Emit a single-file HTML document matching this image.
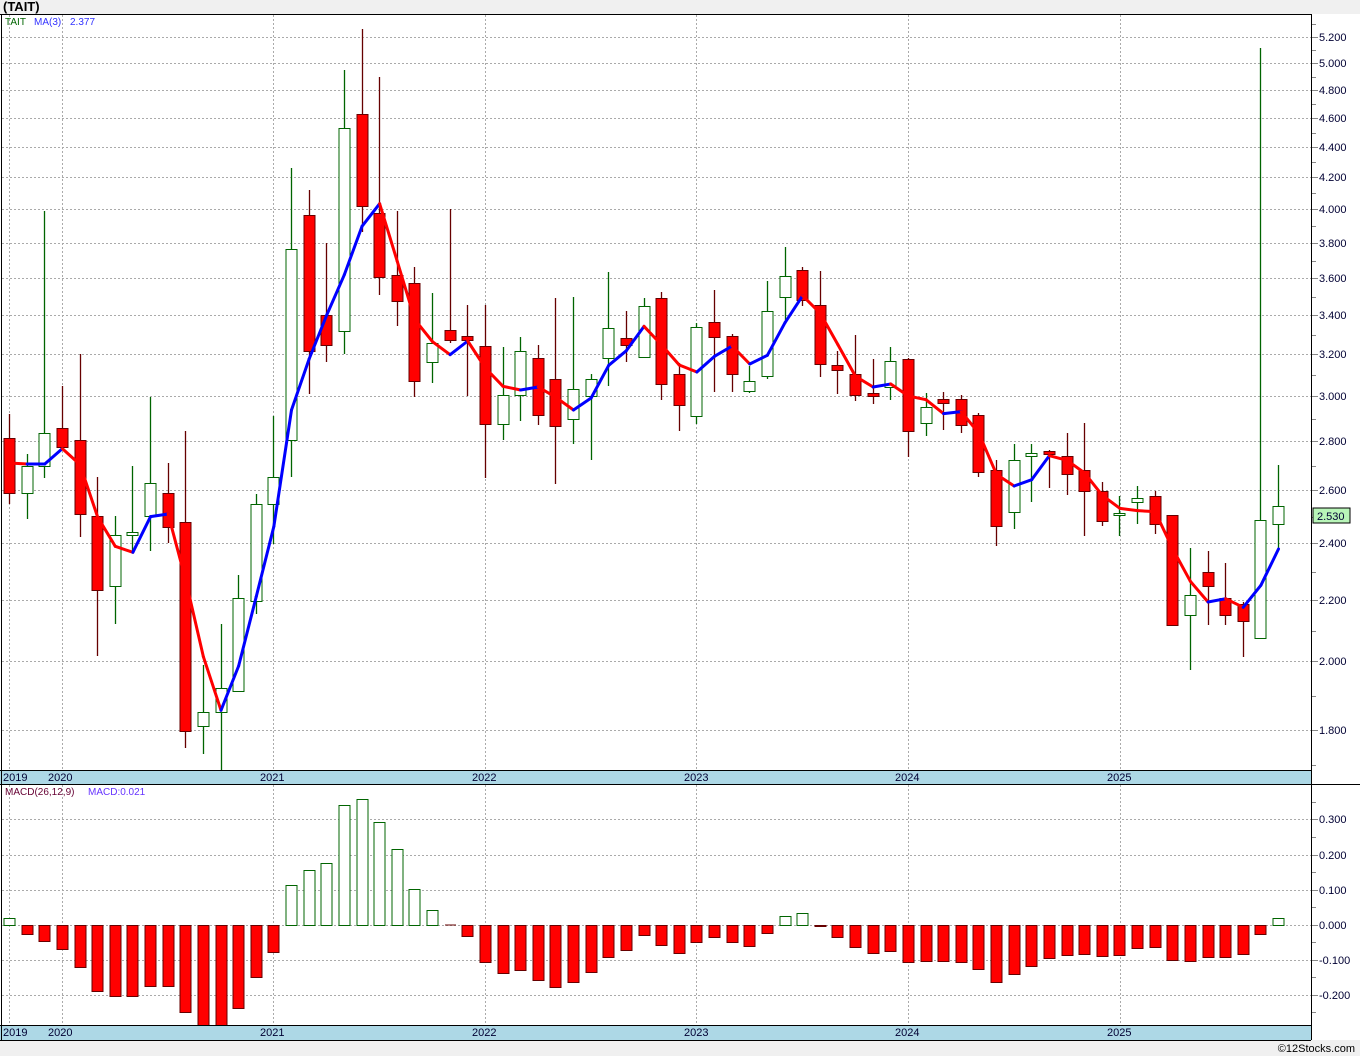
<!DOCTYPE html>
<html><head><meta charset="utf-8"><style>
html,body{margin:0;padding:0;background:#f0f0f0;}
body{width:1360px;height:1056px;overflow:hidden;position:relative;font-family:"Liberation Sans","DejaVu Sans",sans-serif;}
svg{position:absolute;left:0;top:0;}
</style></head><body>
<svg id="s" width="1360" height="1056" viewBox="0 0 1360 1056" xmlns="http://www.w3.org/2000/svg" font-family="Liberation Sans, DejaVu Sans, sans-serif">
<rect x="0" y="14" width="1360" height="1026" fill="#ffffff"/>
<text x="3" y="11" font-size="13" font-weight="bold" fill="#000">(TAIT)</text>
<g id="grid" stroke="#aaaaaa" stroke-width="1" stroke-dasharray="2,2"></g>
<g id="macd"></g>
<g id="cand"></g>
<g id="ma" fill="none" stroke-width="3" stroke-linejoin="round" stroke-linecap="round"></g>
<!-- bands -->
<rect x="0" y="770" width="1311" height="14" fill="#add8e6"/>
<rect x="0" y="1025" width="1311" height="15" fill="#add8e6"/>
<line x1="0" y1="770.5" x2="1311" y2="770.5" stroke="#000"/>
<line x1="0" y1="784.5" x2="1360" y2="784.5" stroke="#000"/>
<line x1="0" y1="1025.5" x2="1311" y2="1025.5" stroke="#000"/>
<line x1="0" y1="1040.5" x2="1311" y2="1040.5" stroke="#000"/>
<line x1="0" y1="14.5" x2="1311" y2="14.5" stroke="#000"/>
<line x1="1.5" y1="14" x2="1.5" y2="1040" stroke="#000"/>
<line x1="1311.5" y1="14" x2="1311.5" y2="1040" stroke="#000"/>
<g font-size="11" fill="#000033">
<text x="3" y="781">2019</text><text x="48" y="781">2020</text><text x="260" y="781">2021</text><text x="472" y="781">2022</text><text x="684" y="781">2023</text><text x="895" y="781">2024</text><text x="1107" y="781">2025</text>
<text x="3" y="1036">2019</text><text x="48" y="1036">2020</text><text x="260" y="1036">2021</text><text x="472" y="1036">2022</text><text x="684" y="1036">2023</text><text x="895" y="1036">2024</text><text x="1107" y="1036">2025</text>
</g>
<g font-size="10">
<text x="5" y="25" fill="#006400">TAIT</text><text x="34" y="25" fill="#3333ff">MA(3)</text><text x="70" y="25" fill="#3333ff">2.377</text>
<text x="5" y="795" fill="#660033">MACD(26,12,9)</text><text x="88" y="795" fill="#6633ff">MACD:0.021</text>
</g>
<g id="ax" font-size="11" fill="#000033"></g>
<rect x="1313" y="508" width="37" height="15" fill="#b8f5b8" stroke="#000"/>
<text x="1317" y="520" font-size="11" fill="#000033">2.530</text>
<text x="1355" y="1052" font-size="11" fill="#000" text-anchor="end">©12Stocks.com</text>
</svg>
<script>
var NS="http://www.w3.org/2000/svg";
function el(p,t,a){var e=document.createElementNS(NS,t);for(var k in a)e.setAttribute(k,a[k]);p.appendChild(e);return e;}
var g=document.getElementById('grid'),ax=document.getElementById('ax');
var xs=[9,62,273,485,696,908,1120];
xs.forEach(function(x){el(g,'line',{x1:x+.5,y1:15,x2:x+.5,y2:770});el(g,'line',{x1:x+.5,y1:785,x2:x+.5,y2:1025});});
var pl=[[37,"5.200"],[63,"5.000"],[90,"4.800"],[118,"4.600"],[147,"4.400"],[177,"4.200"],[209,"4.000"],[243,"3.800"],[278,"3.600"],[315,"3.400"],[354,"3.200"],[396,"3.000"],[441,"2.800"],[490,"2.600"],[543,"2.400"],[600,"2.200"],[661,"2.000"],[730,"1.800"]];
function axis(list,minor){list.forEach(function(p){el(g,'line',{x1:2,y1:p[0]+.5,x2:1311,y2:p[0]+.5});
el(ax,'line',{x1:1312,y1:p[0]+.5,x2:1318,y2:p[0]+.5,stroke:"#888"});
var t=el(ax,'text',{x:1319,y:p[0]+4});t.textContent=p[1];});
minor.forEach(function(y){el(ax,'line',{x1:1312,y1:y+.5,x2:1316,y2:y+.5,stroke:"#888"});});}
var pm=[];for(var i=0;i<pl.length-1;i++)pm.push(Math.round((pl[i][0]+pl[i+1][0])/2));pm.push(24);pm.push(765);
axis(pl,pm);
var ml=[[819,"0.300"],[855,"0.200"],[890,"0.100"],[925,"0.000"],[960,"-0.100"],[995,"-0.200"]];
axis(ml,[802,837,872,907,942,977,1012]);
// candles: [dir(1 up,0 down), wickTop, bodyTop, bodyBot, wickBot]
var C=[[0,414,438,493,504],[1,454,466,493,519],[1,211,433,466,478],[0,386,428,447,447],[0,354,440,514,537],[0,477,516,590,656],[1,516,535,586,624],[1,466,532,535,552],[1,397,483,516,551],[0,463,493,527,543],[0,431,522,731,748],[1,665,712,726,754],[1,624,688,712,770],[1,575,598,691,692],[1,494,504,601,614],[1,416,477,504,544],[1,168,249,440,477],[0,190,215,351,394],[0,243,315,345,362],
[1,70,128,331,354],[0,29,114,206,232],[0,77,213,277,295],[0,211,275,301,326],[0,267,283,381,397],[1,293,343,362,383],[0,209,330,340,343],[0,305,336,340,396],[0,305,346,424,478],[1,347,395,424,440],[1,337,351,395,421],[0,345,358,415,425],[0,298,379,426,484],[1,297,389,419,444],[1,374,379,396,460],[1,272,328,358,386],[0,311,338,345,362],[1,298,306,357,357],[0,292,298,384,400],
[0,363,374,405,431],[1,323,327,416,424],[0,290,322,337,392],[0,334,336,374,392],[1,366,381,391,393],[1,281,311,376,379],[1,247,276,297,320],[0,267,270,300,306],[0,271,305,364,377],[0,351,365,370,394],[0,335,374,395,401],[0,359,393,396,404],[1,347,361,387,400],[0,358,359,431,457],[1,393,407,423,436],[0,392,399,403,430],[0,395,399,425,433],[0,413,415,472,477],[0,460,470,526,546],
[1,444,460,512,529],[1,444,453,456,502],[0,450,451,454,488],[0,433,456,474,495],[0,423,470,491,536],[0,482,491,521,526],[1,496,513,515,536],[1,486,498,502,524],[0,491,496,524,534],[0,515,515,625,625],[1,548,595,615,670],[0,551,572,586,625],[0,563,598,615,625],[0,602,604,621,657],[1,48,520,638,638],[1,465,506,524,549]];
var cg=document.getElementById('cand');
function X(i){return 9+i*17.625;}
var closes=[];
C.forEach(function(c,i){var x=Math.round(X(i));var up=c[0]==1;var col=up?"#006400":"#660000";
el(cg,'line',{x1:x+.5,y1:c[1],x2:x+.5,y2:c[4],stroke:col,"stroke-width":1.3});
var h=Math.max(c[3]-c[2],2);
el(cg,'rect',{x:x-5,y:c[2]+.5,width:11,height:h,fill:up?"#ffffff":"#ff0000",stroke:col,"stroke-width":1});
closes.push(up?c[2]:c[3]);});
var ma=[];for(var i=0;i<closes.length;i++){if(i==0)ma.push(463);else if(i==1)ma.push(464);else ma.push((closes[i]+closes[i-1]+closes[i-2])/3);}
var mg=document.getElementById('ma');
for(var i=0;i<ma.length-1;i++){el(mg,'line',{x1:X(i)+.5,y1:ma[i],x2:X(i+1)+.5,y2:ma[i+1],stroke:ma[i+1]>ma[i]?"#ff0000":"#0000ff"});}
// macd bars (end y, zero at 925)
var M=[918,934,941,949,967,991,996,996,986,986,1012,1025,1025,1008,977,952,885,870,863,805,799,822,849,889,910,924,936,962,973,970,980,987,982,972,957,950,935,945,953,942,937,942,946,933,916,913,926,937,947,953,951,962,961,961,962,969,982,974,966,958,955,954,956,955,948,947,960,961,957,957,954,934,918];
var bg=document.getElementById('macd');
M.forEach(function(v,i){var x=Math.round(X(i));var up=v<925;
if(v==924){el(bg,'line',{x1:x-5,y1:925,x2:x+6,y2:925,stroke:"#660000"});return;}
var y0=Math.min(v,925),h=Math.abs(v-925);
el(bg,'rect',{x:x-5,y:y0+.5,width:11,height:h,fill:up?"#ffffff":"#ff0000",stroke:up?"#006400":"#660000","stroke-width":1});});
</script>
</body></html>
